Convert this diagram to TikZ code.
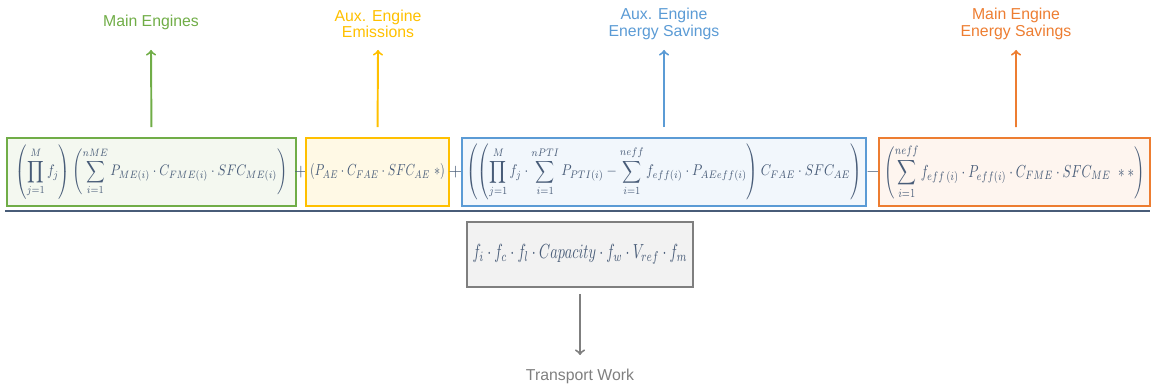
\documentclass[tikz,border=0pt]{standalone}
\usepackage{amsmath}
\usepackage{graphicx}
\usepackage{fontspec}
\setsansfont{Liberation Sans}
\usetikzlibrary{positioning}

\definecolor{megreen}{RGB}{112,173,71}
\definecolor{aeyellow}{RGB}{255,192,0}
\definecolor{aeblue}{RGB}{91,155,213}
\definecolor{meorange}{RGB}{237,125,49}
\definecolor{formula}{RGB}{72,92,120}
\definecolor{workgray}{RGB}{127,127,127}

\begin{document}
\begin{tikzpicture}[x=0.02cm,y=-0.02cm,
	termbox/.style={draw, line width=1.1pt, minimum height=1.36cm, inner sep=0pt, text=formula},
	sign/.style={text=formula, inner sep=1pt},
	headtext/.style={font=\sffamily\fontsize{9}{9.5}\selectfont, align=center},
	up/.style={->, line width=1.1pt, shorten <=0.2cm}]
	\useasboundingbox (0,0) rectangle (1155,388);

	% the four terms of the numerator
	\node[termbox, draw=megreen, fill=megreen!8, minimum width=5.78cm] (mainbox) at (151.5,172)
		{\resizebox*{5.44cm}{1.1cm}{$\displaystyle\left(\prod_{j=1}^{M} f_j\right)\left(\sum_{i=1}^{nME} P_{ME(i)}\cdot C_{FME(i)}\cdot SFC_{ME(i)}\right)$}};
	\node[sign] (plusa) at (301,172) {$+$};
	\node[termbox, draw=aeyellow, fill=aeyellow!10, minimum width=2.86cm] (auxbox) at (377.5,172)
		{\resizebox*{2.7cm}{0.32cm}{$(P_{AE}\cdot C_{FAE}\cdot SFC_{AE}\ *)$}};
	\node[sign] (plusb) at (455.5,172) {$+$};
	\node[termbox, draw=aeblue, fill=aeblue!8, minimum width=8.08cm] (ptibox) at (664,172)
		{\resizebox*{7.92cm}{1.12cm}{$\displaystyle\left(\left(\prod_{j=1}^{M} f_j\cdot\sum_{i=1}^{nPTI} P_{PTI(i)}-\sum_{i=1}^{neff} f_{eff(i)}\cdot P_{AEeff(i)}\right)C_{FAE}\cdot SFC_{AE}\right)$}};
	\node[sign] (minus) at (873,172) {$-$};
	\node[termbox, draw=meorange, fill=meorange!8, minimum width=5.42cm] (effbox) at (1014.5,172)
		{\resizebox*{5.2cm}{1.1cm}{$\displaystyle\left(\sum_{i=1}^{neff} f_{eff\,(i)}\cdot P_{eff(i)}\cdot C_{FME}\cdot SFC_{ME}\ **\right)$}};

	% fraction bar
	\coordinate (rulel) at (5,211);
	\coordinate (ruler) at (1150,211);
	\draw[formula, line width=1.2pt] (rulel) -- (ruler);

	% denominator
	\node[termbox, draw=workgray, fill=black!5, minimum width=4.52cm, minimum height=1.3cm] (workbox) at (580,254.5)
		{\resizebox*{4.3cm}{0.4cm}{$f_i\cdot f_c\cdot f_l\cdot Capacity\cdot f_w\cdot V_{ref}\cdot f_m$}};

	% headings
	\node[headtext, text=megreen] (mainlbl) at (151,22) {Main Engines};
	\node[headtext, text=aeyellow] (auxlbl) at (378,24) {Aux. Engine\\Emissions};
	\node[headtext, text=aeblue] (ptilbl) at (664,24) {Aux. Engine\\Energy Savings};
	\node[headtext, text=meorange] (efflbl) at (1016,24) {Main Engine\\Energy Savings};
	\node[headtext, text=workgray] (worklbl) at (580,376) {Transport Work};

	\coordinate (maintip) at (151,50);
	\coordinate (auxtip) at (378,50);
	\coordinate (ptitip) at (664,50);
	\coordinate (efftip) at (1016,50);
	\coordinate (worktip) at (580,355);

	\draw[up, megreen] (mainbox.north) -- (maintip);
	\draw[up, aeyellow] (auxbox.north) -- (auxtip);
	\draw[up, aeblue] (ptibox.north) -- (ptitip);
	\draw[up, meorange] ([xshift=0.03cm]effbox.north) -- (efftip);
	\draw[up, workgray, shorten <=0.12cm] (workbox.south) -- (worktip);
\end{tikzpicture}
\end{document}
